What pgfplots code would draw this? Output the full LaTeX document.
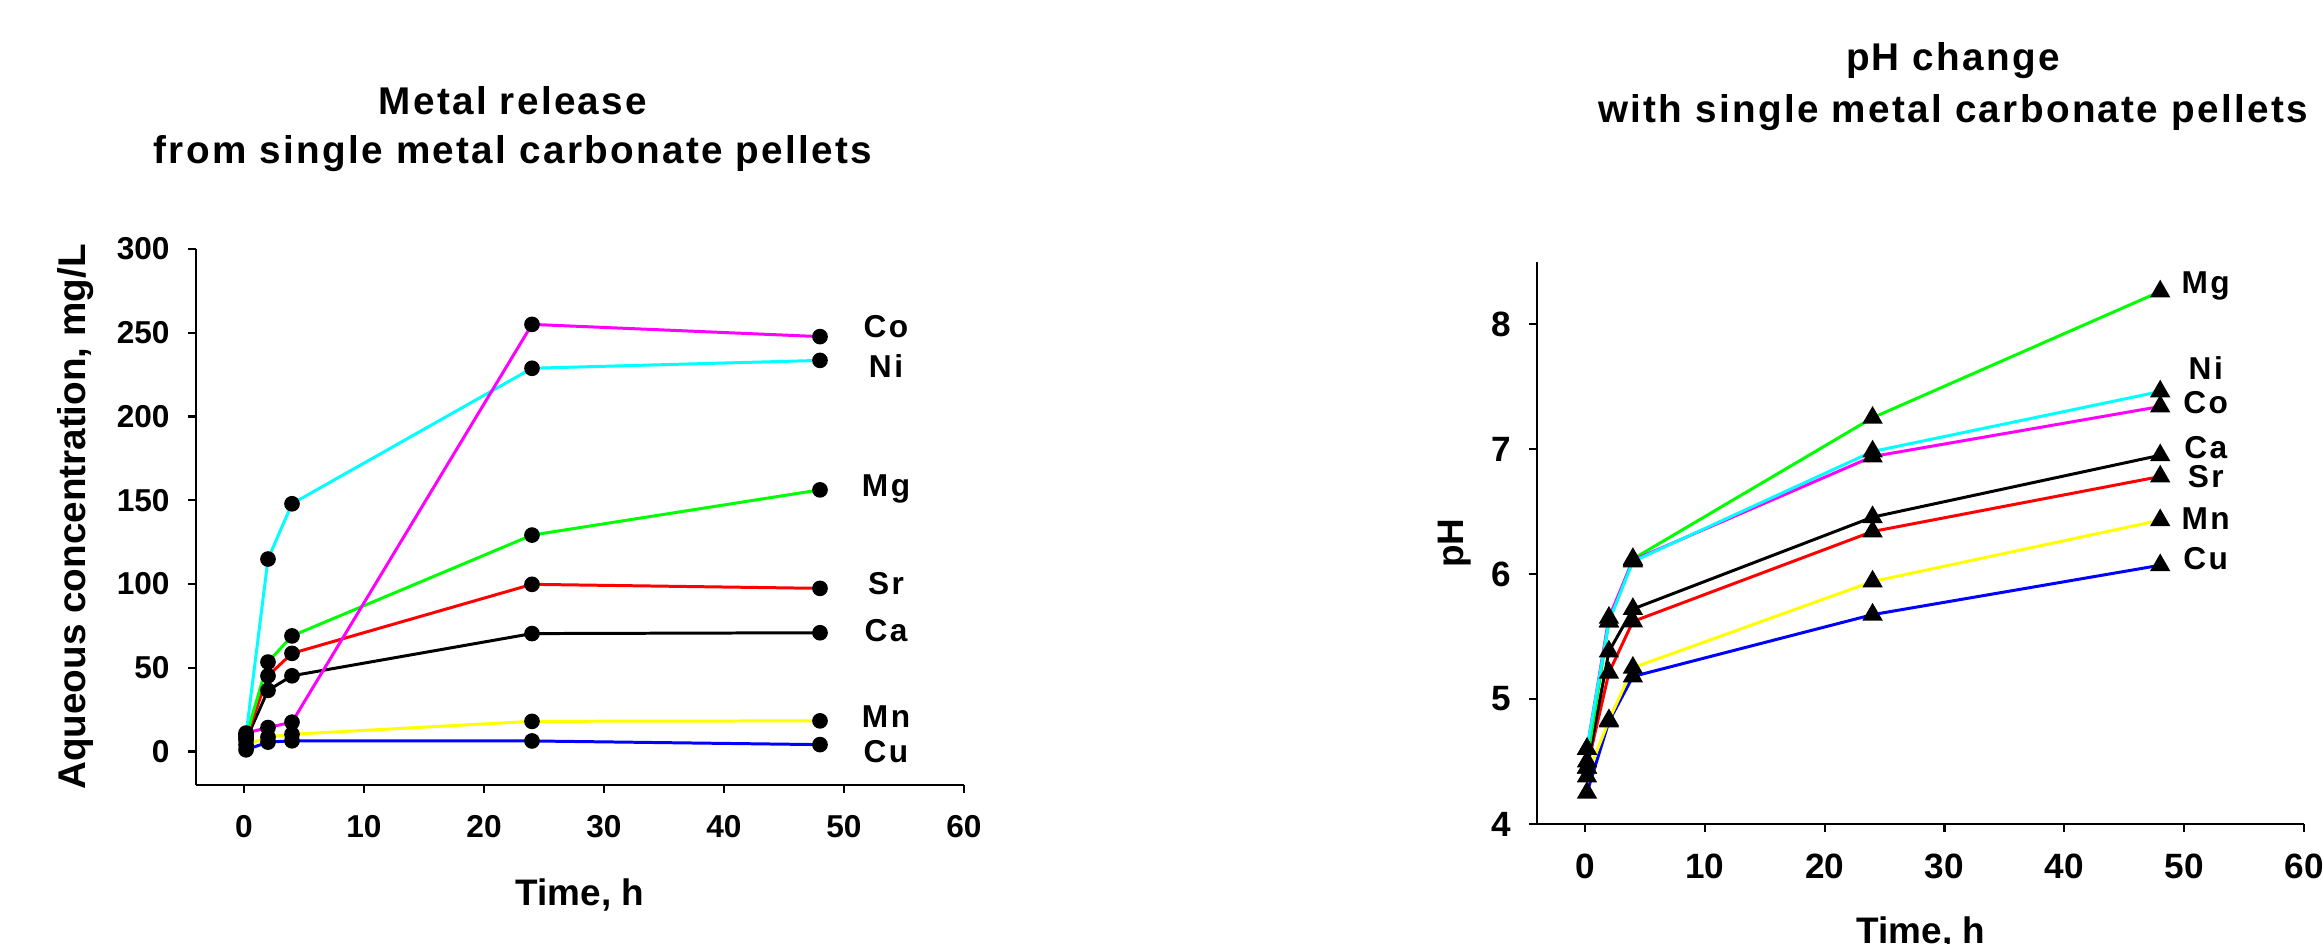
\documentclass[border=0pt]{standalone}
\usepackage{fontspec}
\setmainfont{Liberation Sans}
\newfontfamily\spacedfont{Liberation Sans}[LetterSpace=6]
\newfontfamily\lblfont{Liberation Sans}[LetterSpace=8]
\usepackage{pgfplots}
\pgfplotsset{compat=1.18}
\definecolor{cGreen}{rgb}{0,1,0}
\definecolor{cCyan}{rgb}{0,1,1}
\definecolor{cMagenta}{rgb}{1,0,1}
\definecolor{cYellow}{rgb}{1,1,0}
\definecolor{cRed}{rgb}{1,0,0}
\definecolor{cBlue}{rgb}{0,0,1}
\pgfplotsset{mystyle/.style={
  scale only axis, axis lines*=left, axis line style={-, line width=0.6pt},
  tick align=outside, major tick length=0.08cm,
  tick style={line width=0.6pt, black},
  xmin=-4, xmax=60, xtick={0,10,...,60},
  every axis plot/.append style={line width=0.85pt},
  /pgf/number format/assume math mode=true,
  clip=false,
}}
\begin{document}
\begin{tikzpicture}
\useasboundingbox (0,0) rectangle (23.23,9.43);
% ---------------- left panel
\begin{axis}[mystyle, at={(1.96cm,1.58cm)}, anchor=south west,
  width=7.68cm, height=5.36cm, ymin=-20, ymax=300, ytick={0,50,...,300},
  ticklabel style={font=\bfseries\fontsize{9}{10}\selectfont},
  xticklabel style={yshift=-0.1cm}, yticklabel style={xshift=-0.06cm},
  every axis plot/.append style={mark=*, mark size=1.8pt, mark options={solid, fill=black, draw=black}}]
\addplot[cYellow]  coordinates {(0.17,4) (2,8.6) (4,10.3) (24,18) (48,18.3)};
\addplot[cBlue]    coordinates {(0.17,1) (2,5.6) (4,6.4) (24,6.3) (48,4.1)};
\addplot[black]    coordinates {(0.17,7) (2,36.5) (4,45.2) (24,70.4) (48,70.9)};
\addplot[cRed]     coordinates {(0.17,8) (2,45.2) (4,58.6) (24,99.8) (48,97.4)};
\addplot[cGreen]   coordinates {(0.17,9) (2,53.4) (4,69) (24,129.2) (48,156.2)};
\addplot[cCyan]    coordinates {(0.17,10) (2,114.9) (4,147.9) (24,228.8) (48,233.5)};
\addplot[cMagenta] coordinates {(0.17,11) (2,14.3) (4,17.5) (24,255) (48,247.7)};
\begin{scope}[every node/.style={anchor=mid, font=\lblfont\bfseries\fontsize{9}{10}\selectfont}]
\node at (axis cs:53.5,253) {Co};
\node at (axis cs:53.5,229) {Ni};
\node at (axis cs:53.5,158) {Mg};
\node at (axis cs:53.5,99) {Sr};
\node at (axis cs:53.5,71) {Ca};
\node at (axis cs:53.5,20) {Mn};
\node at (axis cs:53.5,-1) {Cu};
\end{scope}
\end{axis}
% ---------------- right panel
\begin{axis}[mystyle, at={(15.37cm,1.19cm)}, anchor=south west,
  width=7.67cm, height=5.625cm, ymin=4, ymax=8.5, ytick={4,5,6,7,8},
  ticklabel style={font=\bfseries\fontsize{10}{11}\selectfont},
  xticklabel style={yshift=-0.1cm}, yticklabel style={xshift=-0.06cm},
  every axis plot/.append style={mark=triangle*, mark size=2.5pt, mark options={solid, fill=black, draw=black}}]
\addplot[cBlue]    coordinates {(0.17,4.25) (2,4.82) (4,5.18) (24,5.675) (48,6.07)};
\addplot[cYellow]  coordinates {(0.17,4.38) (2,4.83) (4,5.25) (24,5.94) (48,6.43)};
\addplot[cRed]     coordinates {(0.17,4.45) (2,5.21) (4,5.62) (24,6.34) (48,6.78)};
\addplot[black]    coordinates {(0.17,4.45) (2,5.38) (4,5.72) (24,6.455) (48,6.95)};
\addplot[cGreen]   coordinates {(0.17,4.5) (2,5.62) (4,6.12) (24,7.25) (48,8.26)};
\addplot[cMagenta] coordinates {(0.17,4.6) (2,5.65) (4,6.11) (24,6.94) (48,7.34)};
\addplot[cCyan]    coordinates {(0.17,4.6) (2,5.62) (4,6.10) (24,6.98) (48,7.46)};
\begin{scope}[every node/.style={anchor=mid, font=\lblfont\bfseries\fontsize{9}{10}\selectfont}]
\node at (axis cs:51.8,8.32) {Mg};
\node at (axis cs:51.8,7.63) {Ni};
\node at (axis cs:51.8,7.36) {Co};
\node at (axis cs:51.8,7.00) {Ca};
\node at (axis cs:51.8,6.77) {Sr};
\node at (axis cs:51.8,6.43) {Mn};
\node at (axis cs:51.8,6.11) {Cu};
\end{scope}
\end{axis}
% ---------------- titles and axis labels
\begin{scope}[every node/.style={anchor=base, font=\spacedfont\bfseries\fontsize{11}{13}\selectfont}]
\node at (5.13,8.28) {Metal release};
\node at (5.13,7.80) {from single metal carbonate pellets};
\node at (19.53,8.72) {pH change};
\node at (19.53,8.20) {with single metal carbonate pellets};
\end{scope}
\begin{scope}[every node/.style={anchor=base, font=\bfseries\fontsize{10.5}{12}\selectfont}]
\node at (5.80,0.38) {Time, h};
\node at (19.21,0.0) {Time, h};
\node[rotate=90] at (14.63,4.00) {pH};
\node[rotate=90, font=\bfseries\fontsize{11}{13}\selectfont] at (0.85,4.26) {Aqueous concentration, mg/L};
\end{scope}
\end{tikzpicture}
\end{document}
